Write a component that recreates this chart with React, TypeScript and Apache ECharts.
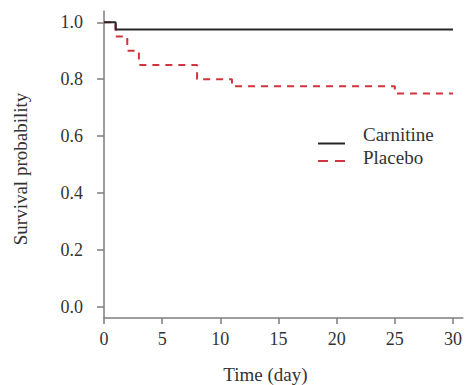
import React, { useEffect, useRef } from "react";
import * as echarts from "echarts";

const carnitineTimes = [0, 1, 30];
const carnitineSurv = [1.0, 0.975, 0.975];
const placeboTimes = [0, 1, 2, 3, 8, 11, 25, 30];
const placeboSurv = [1.0, 0.95, 0.9, 0.85, 0.8, 0.775, 0.75, 0.75];
const xTicks = [0, 5, 10, 15, 20, 25, 30];
const yTicks = [0, 0.2, 0.4, 0.6, 0.8, 1.0];
const seriesNames = ["Carnitine", "Placebo"];
const xTitle = "Time (day)";
const yTitle = "Survival probability";

const FONT = "Liberation Serif";
const AXIS = "#7d7d7d";
const TEXT = "#333333";
const RED = "#d2343f";
const BLACK = "#262626";

export default function App() {
  const ref = useRef<HTMLDivElement>(null);
  useEffect(() => {
    if (!ref.current) return;
    const chart = echarts.init(ref.current, null, { renderer: "svg" });
    const zip = (xs: number[], ys: number[]) => xs.map((x, i) => [x, ys[i]]);
    chart.setOption({
      animation: false,
      textStyle: { fontFamily: FONT },
      grid: { left: 104, right: 0, top: 11, bottom: 67, containLabel: false },
      xAxis: {
        type: "value",
        min: 0,
        max: 30.85,
        splitLine: { show: false },
        axisLine: { onZero: false, lineStyle: { color: AXIS, width: 1.5 } },
        axisTick: { customValues: xTicks, length: 6, lineStyle: { color: AXIS, width: 1.5 } },
        axisLabel: {
          customValues: xTicks,
          margin: 12,
          fontFamily: FONT,
          fontSize: 18,
          color: TEXT,
          formatter: (v: number) => String(v),
        },
      },
      yAxis: {
        type: "value",
        min: -0.04,
        max: 1.04,
        splitLine: { show: false },
        axisLine: { onZero: false, lineStyle: { color: AXIS, width: 1.5 } },
        axisTick: { customValues: yTicks, length: 7, lineStyle: { color: AXIS, width: 1.5 } },
        axisLabel: {
          customValues: yTicks,
          margin: 21,
          fontFamily: FONT,
          fontSize: 18,
          color: TEXT,
          formatter: (v: number) => v.toFixed(1),
        },
      },
      series: [
        {
          name: seriesNames[1],
          type: "line",
          step: "end",
          symbol: "none",
          data: zip(placeboTimes, placeboSurv),
          lineStyle: { color: RED, width: 2, type: [7, 6] },
          z: 2,
        },
        {
          name: seriesNames[0],
          type: "line",
          step: "end",
          symbol: "none",
          data: zip(carnitineTimes, carnitineSurv),
          lineStyle: { color: BLACK, width: 2 },
          z: 3,
        },
      ],
      graphic: [
        {
          type: "line",
          shape: { x1: 318, y1: 143.5, x2: 345, y2: 143.5 },
          style: { stroke: BLACK, lineWidth: 2 },
        },
        {
          type: "line",
          shape: { x1: 318, y1: 161, x2: 345, y2: 161 },
          style: { stroke: RED, lineWidth: 2, lineDash: [10, 7] },
        },
        {
          type: "text",
          x: 363,
          y: 134,
          style: { text: seriesNames[0], fontFamily: FONT, fontSize: 19, fill: TEXT, align: "left", verticalAlign: "middle" },
        },
        {
          type: "text",
          x: 363,
          y: 157,
          style: { text: seriesNames[1], fontFamily: FONT, fontSize: 19, fill: TEXT, align: "left", verticalAlign: "middle" },
        },
        {
          type: "text",
          x: 265.5,
          y: 374,
          style: { text: xTitle, fontFamily: FONT, fontSize: 19, fill: TEXT, align: "center", verticalAlign: "middle" },
        },
        {
          type: "text",
          x: 20,
          y: 169,
          rotation: Math.PI / 2,
          style: { text: yTitle, fontFamily: FONT, fontSize: 19, fill: TEXT, align: "center", verticalAlign: "middle" },
        },
      ],
    });
    return () => chart.dispose();
  }, []);
  return <div ref={ref} style={{ width: 465, height: 385, position: "absolute", left: 0, top: 0 }} />;
}
